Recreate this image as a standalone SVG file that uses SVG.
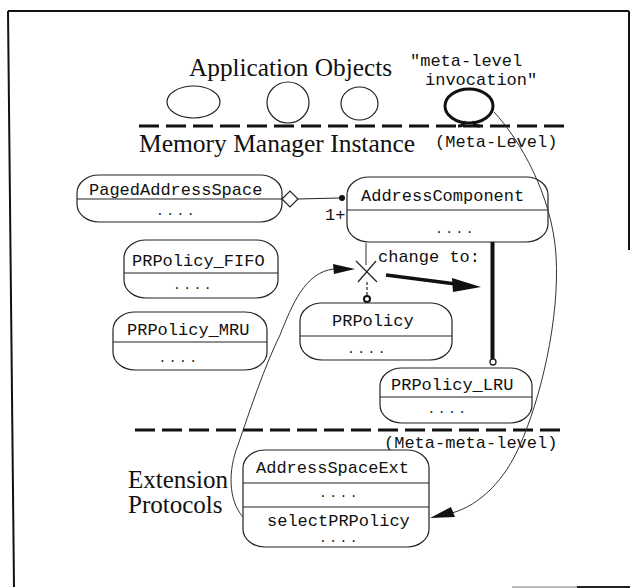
<svg xmlns="http://www.w3.org/2000/svg" width="630" height="588" viewBox="0 0 630 588">
<style>
.ser{font-family:"Liberation Serif","Times New Roman",serif;fill:#111}
.mono{font-family:"Liberation Mono","Courier New",monospace;font-size:17px;fill:#111}
.dots{font-family:"Liberation Mono","Courier New",monospace;font-size:13px;letter-spacing:2.4px;fill:#111;text-anchor:middle}
.box{fill:#fff;stroke:#222;stroke-width:1.2}
.div{stroke:#222;stroke-width:1.2}
.thin{fill:none;stroke:#333;stroke-width:1}
.dash{stroke:#111;stroke-width:3;stroke-dasharray:20 7}
.frame{fill:none;stroke:#111;stroke-width:2}
</style>
<rect width="630" height="588" fill="#fff"/>

<g id="frame">
  <path class="frame" d="M8 11 H629 M8 11 L14 587 M629 11 V250"/>
  <path d="M512 587 H577" stroke="#bbb" stroke-width="2"/>
  <path d="M577 587 H630" stroke="#222" stroke-width="2"/>
</g>

<g id="levels">
  <text class="ser" x="189" y="76" font-size="25.3">Application Objects</text>
  <text class="mono" x="410" y="66">"meta-level</text>
  <text class="mono" x="425" y="85">invocation"</text>
  <line class="dash" x1="139" y1="126" x2="566" y2="126"/>
  <text class="ser" x="139" y="152" font-size="25.5">Memory Manager Instance</text>
  <text class="mono" x="435" y="147">(Meta-Level)</text>
  <line class="dash" x1="135" y1="430" x2="562" y2="430"/>
  <text class="mono" x="384" y="448">(Meta-meta-level)</text>
  <text class="ser" x="128" y="488" font-size="25">Extension</text>
  <text class="ser" x="128" y="513" font-size="25">Protocols</text>
</g>

<g id="app-objects">
  <ellipse cx="193.5" cy="102" rx="26.5" ry="16" fill="none" stroke="#222" stroke-width="1.2"/>
  <ellipse cx="288" cy="102.5" rx="21" ry="20.5" fill="none" stroke="#222" stroke-width="1.2"/>
  <ellipse cx="359.5" cy="103.5" rx="18.5" ry="16.5" fill="none" stroke="#222" stroke-width="1.2"/>
</g>
<g id="meta-invocation">
  <ellipse cx="469" cy="106" rx="24" ry="17" fill="none" stroke="#111" stroke-width="3"/>
  <path d="M458 126 Q465 126 464 121 M480 126 Q473 126 474 121" fill="none" stroke="#111" stroke-width="3"/>
</g>

<g id="PagedAddressSpace">
  <rect class="box" x="77" y="175" width="205" height="47" rx="22" ry="18"/>
  <line class="div" x1="77" y1="199" x2="282" y2="199"/>
  <text class="mono" x="89" y="195">PagedAddressSpace</text>
  <text class="dots" x="176.5" y="215">....</text>
</g>
<g id="AddressComponent">
  <rect class="box" x="347" y="177" width="201" height="65" rx="22" ry="18"/>
  <line class="div" x1="347" y1="210" x2="548" y2="210"/>
  <text class="mono" x="361" y="201">AddressComponent</text>
  <text class="dots" x="455.5" y="233">....</text>
</g>
<g id="PRPolicy_FIFO">
  <rect class="box" x="124" y="240" width="154" height="58" rx="22" ry="18"/>
  <line class="div" x1="124" y1="273" x2="278" y2="273"/>
  <text class="mono" x="132" y="266">PRPolicy_FIFO</text>
  <text class="dots" x="193.5" y="289">....</text>
</g>
<g id="PRPolicy_MRU">
  <rect class="box" x="113" y="312" width="154" height="58" rx="22" ry="18"/>
  <line class="div" x1="113" y1="342" x2="267" y2="342"/>
  <text class="mono" x="127" y="335">PRPolicy_MRU</text>
  <text class="dots" x="179" y="362">....</text>
</g>
<g id="PRPolicy">
  <rect class="box" x="300" y="303" width="152" height="57" rx="22" ry="18"/>
  <line class="div" x1="300" y1="336" x2="452" y2="336"/>
  <text class="mono" x="332" y="326">PRPolicy</text>
  <text class="dots" x="367.5" y="353">....</text>
</g>
<g id="PRPolicy_LRU">
  <rect class="box" x="380" y="368" width="152" height="55" rx="22" ry="18"/>
  <line class="div" x1="380" y1="397" x2="532" y2="397"/>
  <text class="mono" x="391" y="390">PRPolicy_LRU</text>
  <text class="dots" x="448" y="413">....</text>
</g>
<g id="AddressSpaceExt">
  <rect class="box" x="243" y="450" width="186" height="97" rx="22" ry="18"/>
  <line class="div" x1="243" y1="483" x2="429" y2="483"/>
  <line class="div" x1="243" y1="507" x2="429" y2="507"/>
  <text class="mono" x="256" y="473">AddressSpaceExt</text>
  <text class="dots" x="339.5" y="497">....</text>
  <text class="mono" x="267" y="526">selectPRPolicy</text>
  <text class="dots" x="339.5" y="542">....</text>
</g>

<g id="connectors">
  <polygon points="282,199 290,191 298,199 290,207" fill="#fff" stroke="#222" stroke-width="1.2"/>
  <line x1="298" y1="199" x2="340" y2="198" stroke="#222" stroke-width="1.2"/>
  <circle cx="342" cy="198" r="3" fill="#111"/>
  <text class="mono" x="325" y="220" font-size="15">1+</text>
  <line x1="366" y1="243" x2="366" y2="265" stroke="#333" stroke-width="1"/>
  <path d="M356 261 L377 282 M358 282 L376 261" stroke="#222" stroke-width="1.2"/>
  <line x1="367" y1="282" x2="367" y2="295" stroke="#222" stroke-width="1.2" stroke-dasharray="3 2"/>
  <circle cx="367" cy="299" r="3" fill="#fff" stroke="#111" stroke-width="2"/>
  <line x1="492.5" y1="242" x2="492.5" y2="359" stroke="#111" stroke-width="4"/>
  <circle cx="493" cy="362" r="3" fill="#fff" stroke="#222" stroke-width="1.3"/>
  <text class="mono" x="378" y="262">change to:</text>
  <line x1="386" y1="275" x2="456" y2="284" stroke="#111" stroke-width="3.5"/>
  <polygon points="452,278 481,287 453,292" fill="#111"/>
  <path class="thin" d="M243 517 C228 500 228 470 238 445 C250 410 265 365 280 335 C292 305 305 272 334 269"/>
  <polygon points="333,264 355,269 334,274" fill="#111"/>
  <path class="thin" d="M494 112 C520 140 552 195 556 255 C560 320 540 400 520 445 C505 480 480 505 452 513"/>
  <polygon points="430,518 451,507 455,517" fill="#111"/>
</g>
</svg>
